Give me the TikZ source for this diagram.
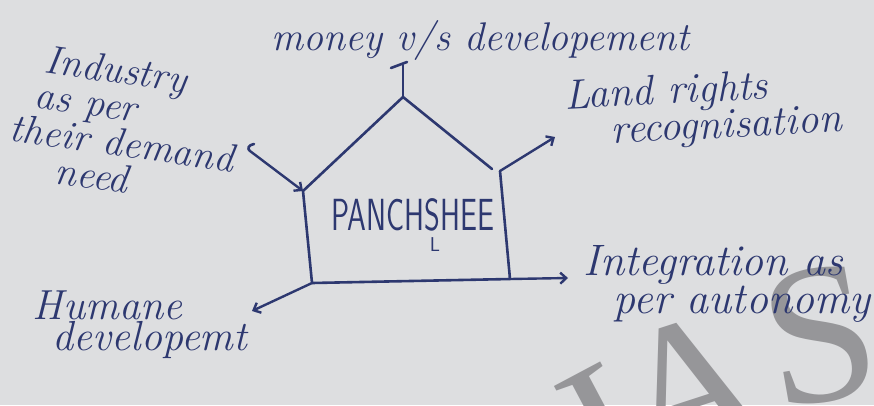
\documentclass[tikz,border=0pt]{standalone}
\usepackage{fontspec}
\usepackage{graphicx}
\usetikzlibrary{arrows.meta}
\definecolor{bgc}{RGB}{221,222,224}
\definecolor{ink}{RGB}{45,56,112}
\definecolor{wm}{RGB}{150,150,153}
\newfontfamily\wmfont{Liberation Serif}
\tikzset{
  house/.style={draw=ink, line width=2.6pt, line join=round, line cap=round},
  conn/.style={draw=ink, line width=2.4pt, line cap=round, -{Straight Barb[length=6pt,width=11pt]}},
  lbl/.style={text=ink, inner sep=0pt, align=left},
  wmark/.style={text=wm, inner sep=0pt, font=\wmfont\fontsize{200}{200}\selectfont},
  panch/.style={text=ink, inner sep=0pt, align=center, font=\sffamily\fontsize{20}{14}\selectfont}
}
\begin{document}
\begin{tikzpicture}[x=1pt,y=-1pt]
\fill[bgc] (0,0) rectangle (874,405);
\useasboundingbox (0,0) rectangle (874,405);
\clip (0,0) rectangle (874,405);
% watermark
\node[wmark,rotate=28] (wmI) at (608,432) {I};
\node[wmark,rotate=18] (wmA) at (690,388) {A};
\node[wmark,rotate=10] (wmS) at (820,336) {S};
% house
\coordinate (apex) at (403,97);
\coordinate (roofR) at (492,169);
\coordinate (wallRT) at (500,171);
\coordinate (cornL) at (303,191);
\coordinate (BL) at (312,283);
\coordinate (BR) at (510,279);
\coordinate (stemT) at (403,65);
\coordinate (barL) at (391,68);
\coordinate (barR) at (407,62);
\draw[house] (roofR) -- (apex) -- (cornL) -- (BL) -- (BR) -- (wallRT);
\draw[house] (apex) -- (stemT);
\draw[house] (barL) -- (barR);
\node[panch] (pan) at (413,225) {\scalebox{0.67}[1]{\fontsize{45}{45}\selectfont PANCHSHEE}\\[5pt]\hspace*{44pt}L};
% labels
\node[lbl, anchor=base, font=\itshape\fontsize{40}{40}\selectfont] (money) at (480,50) {money v/s developement};
\node[lbl, rotate=-8, font=\itshape\fontsize{40}{36}\selectfont] (ind) at (125,125) {\hspace*{25pt}Industry\\\hspace*{20pt}as per\\their demand\\\hspace*{50pt}need};
\node[lbl, rotate=3, font=\itshape\fontsize{42}{27}\selectfont] (land) at (703,110) {Land rights\\\hspace*{45pt}recognisation};
\node[lbl, font=\itshape\fontsize{44}{27}\selectfont] (integ) at (727,284) {Integration as\\\hspace*{30pt}per autonomy};
\node[lbl, font=\itshape\fontsize{42}{31}\selectfont] (hum) at (140,325) {Humane\\\hspace*{20pt}developemt};
% connectors
\coordinate (tLand) at (555,137);
\coordinate (tInteg) at (568,278);
\coordinate (tHum) at (252,311);
\coordinate (sInd) at (250,151);
\coordinate (hookE) at (254,144);
\draw[conn] (wallRT) -- (tLand);
\draw[conn] (BR) -- (tInteg);
\draw[conn] (BL) -- (tHum);
\draw[conn] (sInd) -- (cornL);
\draw[house] (sInd) .. controls (247,149) and (248,145) .. (hookE);
\end{tikzpicture}
\end{document}
